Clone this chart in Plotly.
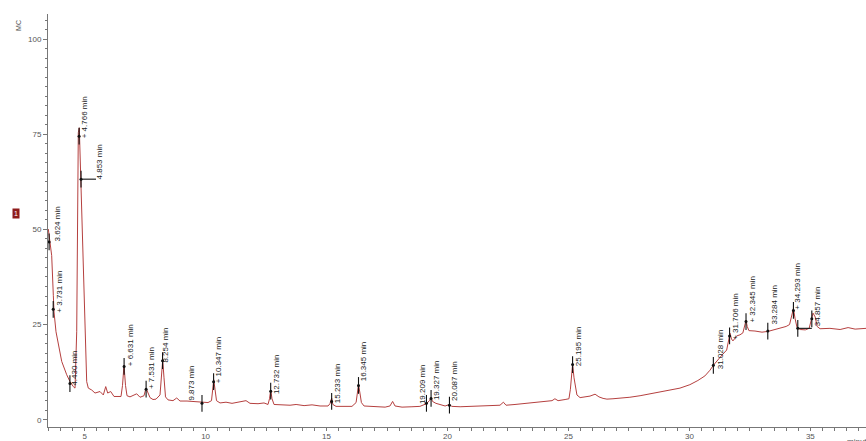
import plotly.graph_objects as go

# ---- data ----
time_min = [3.497, 3.567, 3.637, 3.704, 3.733, 3.815, 3.910, 4.051, 4.258, 4.394, 4.530, 4.601,
            4.671, 4.696, 4.737, 4.778, 4.836, 4.890, 4.944, 5.014, 5.084, 5.150, 5.291, 5.427,
            5.634, 5.771, 5.870, 5.952, 6.076, 6.213, 6.391, 6.502, 6.564, 6.626, 6.688, 6.750,
            6.874, 7.151, 7.288, 7.453, 7.536, 7.598, 7.701, 7.825, 7.949, 8.114, 8.176, 8.226,
            8.280, 8.342, 8.445, 8.652, 8.805, 8.941, 9.231, 9.437, 9.644, 9.850, 10.099, 10.243,
            10.293, 10.335, 10.388, 10.450, 10.595, 10.843, 11.091, 11.422, 11.670, 11.835, 12.166,
            12.414, 12.579, 12.641, 12.691, 12.745, 12.828, 13.158, 13.490, 13.740, 14.070, 14.400,
            14.730, 15.060, 15.140, 15.210, 15.260, 15.390, 15.760, 16.050, 16.220, 16.270, 16.320,
            16.380, 16.440, 16.550, 17.000, 17.420, 17.620, 17.730, 17.830, 18.120, 18.530, 18.860,
            19.130, 19.190, 19.250, 19.320, 19.380, 19.520, 19.690, 19.900, 20.080, 20.180, 20.520,
            20.930, 21.340, 21.760, 22.170, 22.310, 22.420, 22.790, 23.200, 23.620, 24.030, 24.320,
            24.440, 24.570, 24.860, 25.020, 25.080, 25.120, 25.170, 25.230, 25.290, 25.350, 25.480,
            25.680, 25.890, 26.100, 26.260, 26.430, 26.590, 26.840, 27.130, 27.540, 27.960, 28.370,
            28.780, 29.190, 29.610, 30.020, 30.350, 30.640, 30.850, 30.990, 31.180, 31.350, 31.540,
            31.620, 31.680, 31.740, 31.800, 31.950, 32.090, 32.210, 32.290, 32.340, 32.390, 32.460,
            32.710, 33.000, 33.250, 33.500, 33.750, 34.000, 34.140, 34.230, 34.300, 34.370, 34.450,
            34.580, 34.790, 34.950, 35.030, 35.110, 35.200, 35.280, 35.400, 35.810, 36.230, 36.560,
            36.850, 37.300]
signal = [50.1, 46.7, 43.1, 32.7, 28.3, 23.1, 19.6, 15.3, 11.8, 10.0, 8.7, 8.3,
          23.1, 58.0, 75.4, 76.7, 64.1, 53.6, 40.5, 23.1, 10.0, 8.3, 7.8, 7.0,
          7.4, 6.5, 8.7, 7.0, 7.4, 6.1, 6.1, 6.1, 9.0, 14.3, 9.0, 6.3,
          6.0, 6.8, 5.9, 6.3, 8.3, 7.5, 5.8, 5.3, 5.4, 6.5, 11.0, 15.7,
          11.0, 6.0, 5.2, 5.0, 5.7, 4.9, 4.9, 4.8, 4.7, 4.6, 4.5, 5.0,
          8.0, 10.5, 8.0, 5.0, 4.4, 4.6, 4.3, 4.6, 5.0, 4.3, 4.2,
          4.4, 4.0, 5.5, 7.8, 5.5, 4.0, 3.9, 3.8, 4.0, 3.7, 3.9,
          3.6, 3.6, 4.2, 5.7, 4.0, 3.5, 3.6, 3.5, 4.5, 7.0, 9.2,
          7.0, 4.5, 3.6, 3.5, 3.3, 3.6, 4.8, 3.6, 3.3, 3.4, 3.5,
          4.2, 4.6, 5.0, 5.8, 4.8, 4.3, 4.0, 3.6, 4.0, 3.5, 3.4,
          3.5, 3.5, 3.6, 3.8, 4.6, 3.8, 4.0, 4.3, 4.5, 4.8, 5.0,
          5.5, 5.0, 5.3, 5.5, 8.0, 12.0, 14.6, 11.0, 8.0, 6.5, 5.8,
          6.0, 6.2, 6.7, 6.0, 5.6, 5.4, 5.5, 5.6, 5.9, 6.3, 6.8,
          7.3, 7.8, 8.3, 9.2, 10.3, 11.5, 13.0, 14.3, 15.8, 17.0, 18.3,
          20.5, 22.7, 21.2, 20.7, 22.0, 22.3, 22.8, 24.5, 26.1, 24.5, 23.4,
          23.3, 23.0, 23.2, 23.7, 24.0, 24.5, 25.0, 27.0, 29.2, 26.5, 24.2,
          23.7, 23.6, 24.0, 26.0, 28.0, 27.0, 24.5, 23.9, 24.0, 23.7, 24.2,
          23.8, 24.0]

# integration marks (time, signal)
mark_t = [3.53, 3.70, 4.39, 4.77, 4.85, 6.63, 7.54, 8.22, 9.85, 10.33, 12.69, 15.21, 16.32,
          19.13, 19.32, 20.08, 25.17, 30.99, 31.66, 32.34, 33.24, 34.30, 34.48, 35.06]
mark_v = [46.7, 29.0, 9.5, 74.5, 63.2, 14.0, 8.0, 15.5, 4.3, 10.0, 7.5, 4.8, 9.0,
          4.3, 5.6, 3.8, 14.5, 14.3, 22.0, 25.8, 23.3, 28.7, 24.0, 26.5]

# peak labels: text, position of text foot
label_text = ["3.624 min", "+ 3.731 min", "4.430 min", "+ 4.766 min", "4.853 min", "+ 6.631 min",
              "+ 7.531 min", "8.254 min", "9.873 min", "+ 10.347 min", "12.732 min", "15.233 min",
              "16.345 min", "19.209 min", "19.327 min", "20.087 min", "25.195 min", "31.028 min",
              "+ 31.706 min", "+ 32.345 min", "33.284 min", "+ 34.293 min", "34.857 min"]
label_t = [3.86, 3.98, 4.60, 4.97, 5.63, 6.87, 7.74, 8.36, 9.40, 10.55, 12.91, 15.43,
           16.51, 18.99, 19.52, 20.31, 25.39, 31.26, 31.93, 32.59, 33.50, 34.49, 35.27]
label_v = [46.2, 27.6, 8.3, 73.4, 62.7, 13.5, 7.5, 14.6, 4.4, 9.0, 6.2, 3.8,
           9.6, 3.6, 4.6, 4.4, 13.5, 12.7, 20.5, 25.0, 24.5, 28.4, 24.0]

# horizontal baseline bars (start, end, level)
bar_t0 = [4.85, 34.48]
bar_t1 = [5.47, 35.06]
bar_v = [63.2, 24.0]

y_ticks = [0, 25, 50, 75, 100]
x_ticks = [5, 10, 15, 20, 25, 30, 35]

X_RANGE = [3.484, 37.30]
Y_RANGE = [-1.92, 106.6]

FONT = "Liberation Sans, Arial"

fig = go.Figure()

fig.add_trace(go.Scatter(x=time_min, y=signal, mode="lines",
                         line=dict(color="#b5403f", width=1), hoverinfo="skip"))

# vertical mark segments
HALF = 2.2
mx, my = [], []
for t, v in zip(mark_t, mark_v):
    mx += [t, t, None]
    my += [v - HALF, v + HALF, None]
for a, b, v in zip(bar_t0, bar_t1, bar_v):
    mx += [a, b, None]
    my += [v, v, None]
fig.add_trace(go.Scatter(x=mx, y=my, mode="lines", line=dict(color="#111111", width=1.1),
                         hoverinfo="skip"))
fig.add_trace(go.Scatter(x=mark_t, y=mark_v, mode="markers",
                         marker=dict(color="#111111", size=3), hoverinfo="skip"))

for txt, t, v in zip(label_text, label_t, label_v):
    fig.add_annotation(x=t, y=v, xref="x", yref="y", text=txt, textangle=-90,
                       showarrow=False, xanchor="center", yanchor="bottom",
                       font=dict(family=FONT, size=8, color="#222222"))

# side labels
fig.add_annotation(xref="paper", yref="paper", x=-0.043, y=0.99, text="MC", textangle=-90,
                   showarrow=False, font=dict(family=FONT, size=7, color="#555555"))
fig.add_annotation(xref="paper", yref="paper", x=-0.0446, y=0.516, text="1",
                   showarrow=False, bgcolor="#8e1b1b", borderpad=1,
                   font=dict(family=FONT, size=7, color="#ffffff"))
fig.add_annotation(xref="paper", yref="paper", x=0.974, y=-0.02, text="minutes",
                   xanchor="left", yanchor="top", showarrow=False,
                   font=dict(family=FONT, size=8, color="#555555"))

axis_common = dict(showline=True, linecolor="#777777", linewidth=1, showgrid=False,
                   zeroline=False, ticks="outside", tickcolor="#777777",
                   tickfont=dict(family=FONT, size=8, color="#555555"))

fig.update_xaxes(range=X_RANGE, tickvals=x_ticks, ticktext=[str(v) for v in x_ticks], ticklen=3,
                 ticklabelstandoff=-2,
                 minor=dict(dtick=0.5, tick0=0, ticklen=3, ticks="outside", tickcolor="#777777"),
                 **axis_common)
fig.update_yaxes(range=Y_RANGE, tickvals=y_ticks, ticktext=[str(v) for v in y_ticks], ticklen=4,
                 minor=dict(dtick=2.5, tick0=0, ticklen=2, ticks="outside", tickcolor="#777777"),
                 **axis_common)

fig.update_layout(width=866, height=441, margin=dict(l=48, r=0, t=14, b=12),
                  paper_bgcolor="white", plot_bgcolor="white", showlegend=False)

# remove the default page margin so the figure fills the window exactly
fig.write_html("out.html", config={"displayModeBar": False, "staticPlot": True},
               post_script="document.body.style.margin='0';document.body.style.overflow='hidden';")
